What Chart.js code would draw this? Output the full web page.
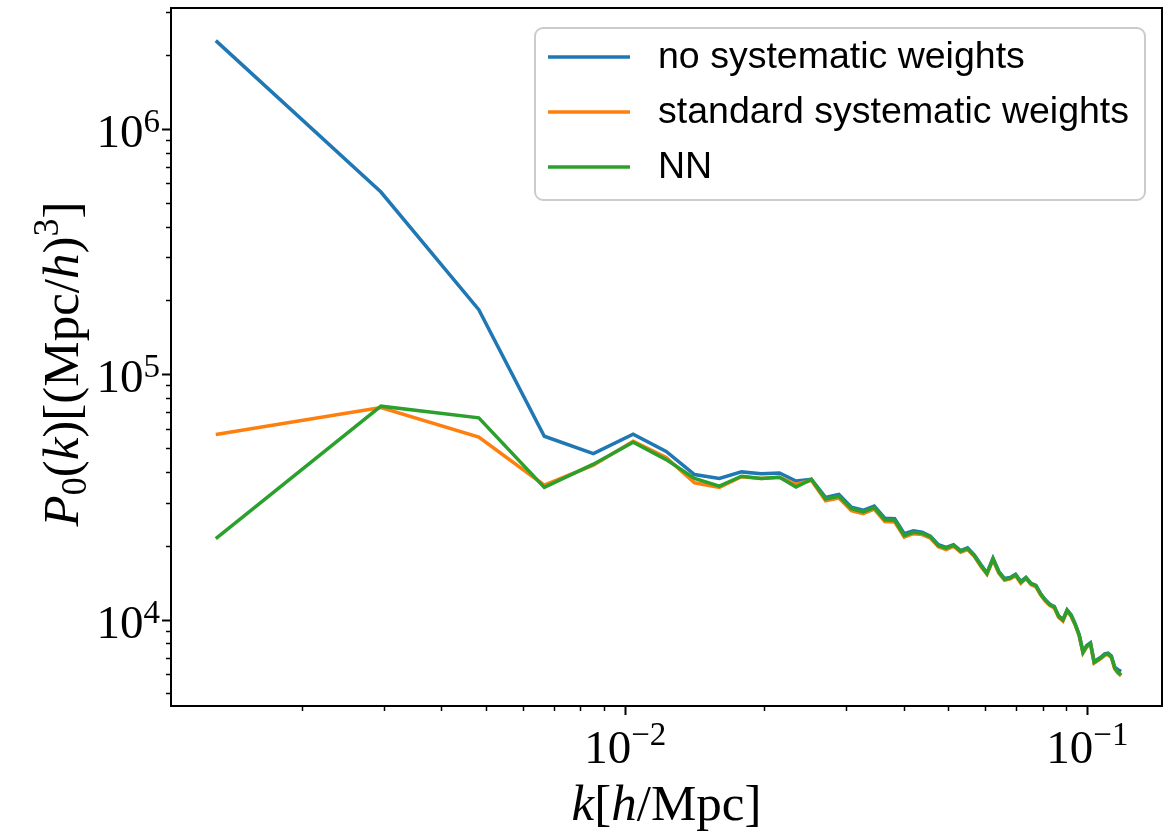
<!DOCTYPE html>
<html>
<head>
<meta charset="utf-8">
<script src="https://cdn.jsdelivr.net/npm/chart.js@4.4.1/dist/chart.umd.min.js"></script>
<style>
  html, body { margin: 0; padding: 0; background: #ffffff; }
  #wrap { width: 1171px; height: 833px; }
</style>
</head>
<body>
<div id="wrap"><canvas id="c" width="1171" height="833"></canvas></div>
<script>
// ---- data ----
const seriesLabels = ["no systematic weights", "standard systematic weights", "NN"];
const kValues = [0.0013, 0.00296, 0.00482, 0.00668, 0.00853, 0.0104, 0.01226, 0.01412, 0.01598, 0.01784,
  0.0197, 0.02156, 0.02341, 0.02527, 0.02713, 0.02899, 0.03085, 0.03271, 0.03457, 0.03643,
  0.03829, 0.04015, 0.04201, 0.04387, 0.04573, 0.04759, 0.04945, 0.05131, 0.05317, 0.05503,
  0.05689, 0.05875, 0.06061, 0.06247, 0.06433, 0.06619, 0.06805, 0.06991, 0.07177, 0.07363,
  0.07549, 0.07735, 0.07921, 0.08107, 0.08293, 0.08479, 0.08665, 0.08851, 0.09037, 0.09223,
  0.09409, 0.09595, 0.09781, 0.09967, 0.10153, 0.10339, 0.10525, 0.10711, 0.10897, 0.11083,
  0.11269, 0.11455, 0.11641, 0.11827];
const pkNoWeights = [2290000, 553000, 183400, 55900, 47500, 57000, 48500, 39000, 37600, 40000,
  39300, 39600, 36700, 37300, 31500, 32400, 28700, 27900, 29000, 25900,
  25800, 22400, 23000, 22700, 21900, 20200, 19700, 20200, 19100, 19600,
  18350, 16800, 15500, 17800, 15700, 14700, 14850, 15300, 14300, 14850,
  14050, 13800, 12750, 12050, 11550, 11300, 10350, 10000, 10950, 10450,
  9600, 8700, 7400, 7850, 8050, 6750, 6900, 7050, 7250, 7300,
  7100, 6400, 6250, 6150];
const pkStandard = [56800, 73100, 55500, 35300, 42600, 53300, 45800, 36100, 34600, 38200,
  37600, 38000, 35600, 37000, 30500, 31300, 27800, 27000, 28200, 25100,
  25000, 21700, 22400, 22200, 21500, 19800, 19300, 19900, 18800, 19300,
  18100, 16500, 15300, 17500, 15450, 14450, 14650, 15100, 14050, 14700,
  13900, 13600, 12600, 11900, 11400, 11150, 10200, 9850, 10800, 10300,
  9500, 8600, 7300, 7750, 7950, 6650, 6800, 6950, 7150, 7200,
  7000, 6300, 6050, 5900];
const pkNN = [21400, 74100, 66400, 34600, 43000, 52800, 44900, 37600, 35000, 38400,
  37600, 38000, 34700, 37300, 31000, 31850, 28300, 27500, 28600, 25500,
  25400, 22000, 22700, 22500, 21750, 20000, 19550, 20100, 19000, 19500,
  18250, 16700, 15400, 17700, 15600, 14600, 14750, 15250, 14200, 14800,
  14000, 13750, 12700, 12000, 11500, 11250, 10300, 9950, 10900, 10400,
  9550, 8650, 7350, 7800, 8000, 6700, 6850, 7000, 7200, 7250,
  7050, 6350, 6100, 5950];
const xDecades = [-2, -1];
const yDecades = [4, 5, 6];
const seriesColors = ["#1f77b4", "#ff7f0e", "#2ca02c"];

function toPoints(vals) { return kValues.map((k, i) => ({ x: k, y: vals[i] })); }

const SERIF = '"Liberation Serif", "DejaVu Serif", serif';
const SANS = '"Liberation Sans", Arial, sans-serif';

function drawRich(ctx, segs, x, y, align) {
  let total = 0;
  for (const s of segs) { ctx.font = s.f; s.w = ctx.measureText(s.t).width; total += s.w; }
  let cx = align === 'center' ? x - total / 2 : (align === 'right' ? x - total : x);
  ctx.textAlign = 'left';
  ctx.textBaseline = 'alphabetic';
  for (const s of segs) { ctx.font = s.f; ctx.fillText(s.t, cx, y + (s.dy || 0)); cx += s.w; }
}

const decor = {
  id: 'decor',
  afterDraw(chart) {
    const ctx = chart.ctx;
    const a = chart.chartArea;
    const xs = chart.scales.x, ys = chart.scales.y;
    ctx.save();
    ctx.fillStyle = '#000';
    ctx.strokeStyle = '#000';
    // ticks
    const base = 'normal 47px ' + SERIF, sup = 'normal 33px ' + SERIF;
    for (let d = -3; d <= -1; d++) {
      for (let m = 1; m <= 9; m++) {
        const v = m * Math.pow(10, d);
        if (v < xs.min || v > xs.max) continue;
        const px = Math.round(xs.getPixelForValue(v)) + 0.5;
        ctx.lineWidth = m === 1 ? 2 : 1.5;
        ctx.beginPath(); ctx.moveTo(px, a.bottom); ctx.lineTo(px, a.bottom + (m === 1 ? 9 : 5)); ctx.stroke();
      }
    }
    for (let d = 3; d <= 6; d++) {
      for (let m = 1; m <= 9; m++) {
        const v = m * Math.pow(10, d);
        if (v < ys.min || v > ys.max) continue;
        const py = Math.round(ys.getPixelForValue(v)) + 0.5;
        ctx.lineWidth = m === 1 ? 2 : 1.5;
        ctx.beginPath(); ctx.moveTo(a.left, py); ctx.lineTo(a.left - (m === 1 ? 9 : 5), py); ctx.stroke();
      }
    }
    // tick labels
    for (const d of xDecades) {
      const px = xs.getPixelForValue(Math.pow(10, d));
      drawRich(ctx, [{ t: '10', f: base }, { t: '\u2212' + Math.abs(d), f: sup, dy: -18 }], px, 763, 'center');
    }
    for (const d of yDecades) {
      const py = ys.getPixelForValue(Math.pow(10, d));
      drawRich(ctx, [{ t: '10', f: base }, { t: String(d), f: sup, dy: -15 }], 160, py + 18, 'right');
    }
    // axis titles
    const it = 'italic 51px ' + SERIF, rm = 'normal 51px ' + SERIF, sm = 'normal 36px ' + SERIF;
    drawRich(ctx, [{ t: 'k', f: it }, { t: '[', f: rm }, { t: 'h', f: it }, { t: '/Mpc]', f: rm }],
      (a.left + a.right) / 2, 820, 'center');
    ctx.save();
    ctx.translate(78, 364);
    ctx.rotate(-Math.PI / 2);
    drawRich(ctx, [{ t: 'P', f: it }, { t: '0', f: sm, dy: 8 }, { t: '(', f: rm }, { t: 'k', f: it },
      { t: ')[(Mpc/', f: rm }, { t: 'h', f: it }, { t: ')', f: rm }, { t: '3', f: sm, dy: -20 }, { t: ']', f: rm }],
      0, 0, 'center');
    ctx.restore();
    // frame
    ctx.lineWidth = 2;
    ctx.strokeRect(a.left, a.top, a.right - a.left, a.bottom - a.top);
    // legend
    const lx = 535, ly = 28, lw = 610, lh = 172;
    ctx.beginPath();
    ctx.roundRect(lx, ly, lw, lh, 8);
    ctx.fillStyle = 'rgba(255,255,255,0.8)';
    ctx.fill();
    ctx.strokeStyle = '#cccccc';
    ctx.lineWidth = 2;
    ctx.stroke();
    const rows = [57, 112, 167];
    chart.data.datasets.forEach((ds, i) => {
      ctx.strokeStyle = ds.borderColor;
      ctx.lineWidth = 3.5;
      ctx.beginPath(); ctx.moveTo(548, rows[i]); ctx.lineTo(630, rows[i]); ctx.stroke();
      ctx.fillStyle = '#000';
      ctx.font = '37.5px ' + SANS;
      ctx.textAlign = 'left';
      ctx.textBaseline = 'middle';
      ctx.fillText(ds.label, 658, rows[i] + 1);
    });
    ctx.restore();
  }
};

const datasets = [pkNoWeights, pkStandard, pkNN].map((vals, i) => ({
  label: seriesLabels[i],
  data: toPoints(vals),
  borderColor: seriesColors[i],
  backgroundColor: seriesColors[i],
  borderWidth: 3.5,
  pointRadius: 0,
  fill: false,
  tension: 0,
  order: 3 - i
}));

new Chart(document.getElementById('c'), {
  type: 'line',
  data: { datasets },
  options: {
    responsive: false,
    animation: false,
    devicePixelRatio: 1,
    layout: { padding: { top: 8, right: 9, left: 0, bottom: 0 } },
    plugins: { legend: { display: false }, tooltip: { enabled: false } },
    scales: {
      x: {
        type: 'logarithmic', min: 0.00104, max: 0.145,
        ticks: { display: false }, grid: { display: false }, border: { display: false },
        afterFit: s => { s.height = 833 - 706 - 0; }
      },
      y: {
        type: 'logarithmic', min: 4445, max: 3.11e6,
        ticks: { display: false }, grid: { display: false }, border: { display: false },
        afterFit: s => { s.width = 171; }
      }
    }
  },
  plugins: [decor]
});
</script>
</body>
</html>
